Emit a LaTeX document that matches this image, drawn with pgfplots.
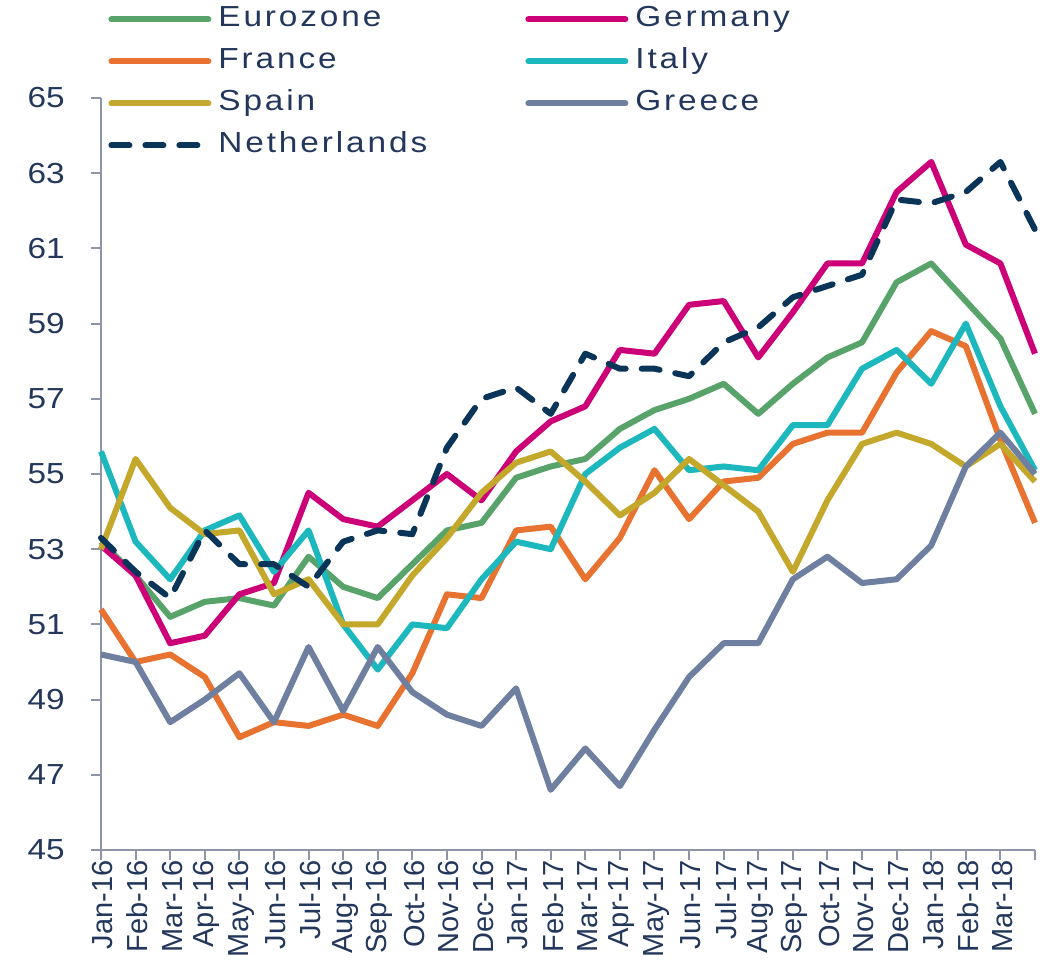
\documentclass[border=0pt]{standalone}
\usepackage{fontspec}
\setmainfont{Liberation Sans}[FakeStretch=1.15]
\newfontfamily\xlabfont{Liberation Sans}
\newfontfamily\legfont{Liberation Sans}[FakeStretch=1.15, LetterSpace=10]
\usepackage{pgfplots}
\usepackage{pgfplotstable}
\pgfplotsset{compat=1.18}

\definecolor{cEZ}{RGB}{88,163,106}
\definecolor{cDE}{RGB}{204,0,119}
\definecolor{cFR}{RGB}{232,114,48}
\definecolor{cIT}{RGB}{28,184,190}
\definecolor{cES}{RGB}{196,168,43}
\definecolor{cGR}{RGB}{111,127,160}
\definecolor{cNL}{RGB}{11,53,88}
\definecolor{axisgray}{RGB}{140,150,168}
\definecolor{txt}{RGB}{35,55,92}

\pgfplotstableread{
i EZ DE FR IT ES GR NL
0 53.2 53.1 51.4 55.6 53.0 50.2 53.3
1 52.3 52.3 50.0 53.2 55.4 50.0 52.4
2 51.2 50.5 50.2 52.2 54.1 48.4 51.7
3 51.6 50.7 49.6 53.5 53.4 49.0 53.5
4 51.7 51.8 48.0 53.9 53.5 49.7 52.6
5 51.5 52.1 48.4 52.4 51.8 48.4 52.6
6 52.8 54.5 48.3 53.5 52.2 50.4 52.0
7 52.0 53.8 48.6 51.0 51.0 48.7 53.2
8 51.7 53.6 48.3 49.8 51.0 50.4 53.5
9 52.6 54.3 49.7 51.0 52.3 49.2 53.4
10 53.5 55.0 51.8 50.9 53.3 48.6 55.7
11 53.7 54.3 51.7 52.2 54.5 48.3 57.0
12 54.9 55.6 53.5 53.2 55.3 49.3 57.3
13 55.2 56.4 53.6 53.0 55.6 46.6 56.6
14 55.4 56.8 52.2 55.0 54.8 47.7 58.2
15 56.2 58.3 53.3 55.7 53.9 46.7 57.8
16 56.7 58.2 55.1 56.2 54.5 48.2 57.8
17 57.0 59.5 53.8 55.1 55.4 49.6 57.6
18 57.4 59.6 54.8 55.2 54.7 50.5 58.5
19 56.6 58.1 54.9 55.1 54.0 50.5 58.9
20 57.4 59.3 55.8 56.3 52.4 52.2 59.7
21 58.1 60.6 56.1 56.3 54.3 52.8 60.0
22 58.5 60.6 56.1 57.8 55.8 52.1 60.3
23 60.1 62.5 57.7 58.3 56.1 52.2 62.3
24 60.6 63.3 58.8 57.4 55.8 53.1 62.2
25 59.6 61.1 58.4 59.0 55.2 55.2 62.5
26 58.6 60.6 55.9 56.8 55.8 56.1 63.3
27 56.6 58.2 53.7 55.1 54.8 55.0 61.5
}\data

\begin{document}
\begin{tikzpicture}
\begin{axis}[
  at={(0pt,0pt)}, anchor=south west,
  scale only axis, width=467pt, height=376pt,
  xmin=0, xmax=27, ymin=45, ymax=65,
  clip=false,
  axis x line*=bottom, axis y line*=left,
  axis line style={draw=axisgray, line width=1pt},
  every tick/.style={draw=axisgray, line width=1pt},
  tick align=outside,
  major tick length=5pt,
  ytick={45,47,...,65},
  xtick={0,...,27},
  xticklabels={Jan-16,Feb-16,Mar-16,Apr-16,May-16,Jun-16,Jul-16,Aug-16,Sep-16,Oct-16,Nov-16,Dec-16,Jan-17,Feb-17,Mar-17,Apr-17,May-17,Jun-17,Jul-17,Aug-17,Sep-17,Oct-17,Nov-17,Dec-17,Jan-18,Feb-18,Mar-18,{}},
  /pgf/number format/assume math mode=true,
  yticklabel style={font=\fontsize{14.5}{14.5}\selectfont, text=txt, anchor=east, inner sep=0pt, xshift=-13pt},
  xticklabel style={font=\xlabfont\fontsize{14.5}{14.5}\selectfont, text=txt, rotate=90, anchor=east, inner sep=0pt, yshift=-1pt},
  legend columns=2,
  legend cell align=left,
  legend image code/.code={\draw[#1, line cap=round] (0pt,0pt) -- (48.5pt,0pt);},
  legend style={at={(axis description cs:0.0075,1.123)}, anchor=north west,
    draw=none, fill=none, inner sep=0pt,
    font=\legfont\fontsize{14.5}{14.5}\selectfont, text=txt,
    nodes={inner sep=0pt, text height=10.5pt, text depth=3pt},
    row sep=7.5pt,
    /tikz/every odd column/.style={column sep=3.5pt},
    /tikz/every even column/.style={column sep=0pt}},
  every axis plot/.append style={line width=3pt, line join=round},
]
\addplot[cEZ] table[x=i, y=EZ] {\data};
\addlegendentry{\makebox[153.5pt][l]{Eurozone}}
\addplot[cDE] table[x=i, y=DE] {\data};
\addlegendentry{Germany}
\addplot[cFR] table[x=i, y=FR] {\data};
\addlegendentry{\makebox[153.5pt][l]{France}}
\addplot[cIT] table[x=i, y=IT] {\data};
\addlegendentry{Italy}
\addplot[cES] table[x=i, y=ES] {\data};
\addlegendentry{\makebox[153.5pt][l]{Spain}}
\addplot[cGR] table[x=i, y=GR] {\data};
\addlegendentry{Greece}
\addplot[cNL, dash pattern=on 9pt off 8pt, line cap=round] table[x=i, y=NL] {\data};
\addlegendentry{\makebox[153.5pt][l]{Netherlands}}
\end{axis}
\pgfresetboundingbox
\useasboundingbox (-50.5pt,-55pt) rectangle (475pt,425pt);
\end{tikzpicture}
\end{document}
